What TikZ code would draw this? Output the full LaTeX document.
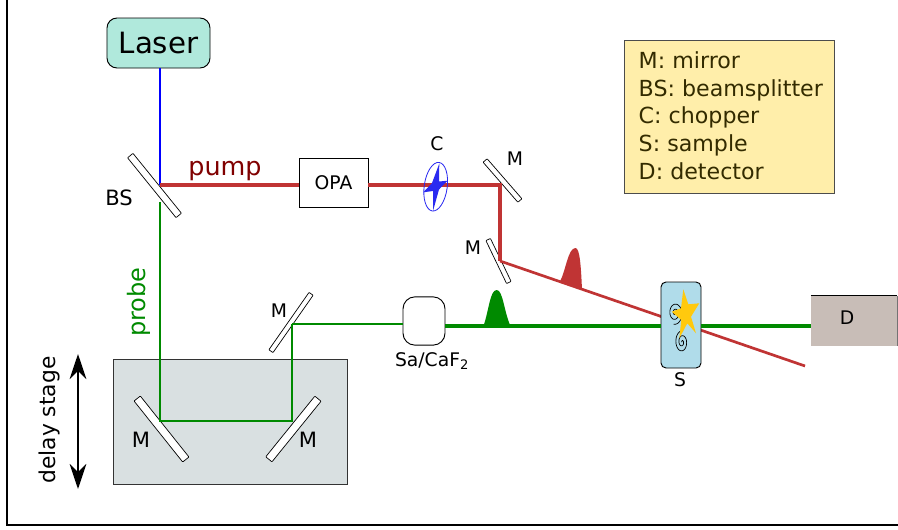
\documentclass[tikz,border=0pt]{standalone}
\usepackage{fontspec}
\setmainfont{DejaVu Sans}
\usetikzlibrary{arrows.meta}
\definecolor{beamred}{HTML}{C03434}
\definecolor{beamgreen}{HTML}{008A00}
\definecolor{pumpred}{HTML}{800000}
\definecolor{lasergreen}{HTML}{B0E9DC}
\definecolor{stagegrey}{HTML}{D9E0E1}
\definecolor{samplecyan}{HTML}{B0DCEA}
\definecolor{staryellow}{HTML}{FFC90E}
\definecolor{legendyellow}{HTML}{FFEEAA}
\definecolor{legendtext}{HTML}{332B00}
\definecolor{detectorgrey}{HTML}{C8BDB7}
\definecolor{chopblue}{HTML}{2A2AF0}
\tikzset{
  mirror/.style={draw, fill=white, line width=0.6pt, inner sep=0pt, rounded corners=0.5pt},
  lab/.style={inner sep=0pt, font=\fontsize{16}{19}\selectfont},
  blue beam/.style={blue, line width=2.45pt},
  red beam/.style={beamred, line width=2.8pt},
  green beam/.style={beamgreen, line width=2.45pt},
  green thin/.style={beamgreen, line width=2pt},
  green thick/.style={beamgreen, line width=3.4pt},
  legend box/.style={draw=black!70, fill=legendyellow, line width=0.6pt, minimum width=6.3cm, minimum height=4.59cm, inner sep=0pt},
  legend text/.style={inner sep=0pt, align=left, text=legendtext, font=\fontsize{18.9}{23.6}\selectfont}
}
\begin{document}
\begin{tikzpicture}[x=0.03cm,y=-0.03cm]
\useasboundingbox (0,0) rectangle (898,529);
\draw [line width=1.1pt] (7,0) -- (7,525) -- (898,525);

\draw (230,421.5) node [draw=black!80, fill=stagegrey, line width=0.7pt, minimum width=7.02cm, minimum height=3.75cm, inner sep=0pt] (stage) {};
\draw (729,116.5) node [legend box] (legend) {};
\draw (638.5,115.5) node [legend text, anchor=west] (legendlines) {M: mirror\\BS: beamsplitter\\C: chopper\\S: sample\\D: detector};

\draw (154.5,185.5) node [mirror, rotate=-51, minimum width=2.31cm, minimum height=0.21cm] (bs) {};
\draw (502.5,180.5) node [mirror, rotate=-49, minimum width=1.59cm, minimum height=0.16cm] (mone) {};
\draw (498.5,261) node [mirror, rotate=-64.3, minimum width=1.43cm, minimum height=0.15cm] (mtwo) {};
\draw (291,322.5) node [mirror, rotate=55, minimum width=2.1cm, minimum height=0.15cm] (mthree) {};
\draw (161.5,429) node [mirror, rotate=-51.4, minimum width=2.34cm, minimum height=0.24cm] (mleft) {};
\draw (293.4,429) node [mirror, rotate=51, minimum width=2.34cm, minimum height=0.24cm] (mright) {};

\coordinate (bshit) at (160,185);
\coordinate (bsout) at (160,202);
\coordinate (monehit) at (500,185);
\coordinate (mtwohit) at (500,261);
\coordinate (redend) at (805,366);
\coordinate (mlefthit) at (160,421);
\coordinate (mrighthit) at (292,421);
\coordinate (mthreehit) at (292,324);
\coordinate (thickline) at (500,326);
\coordinate (arrowtop) at (78,354);
\coordinate (arrowbot) at (78,489);

\draw [beamred, line width=2.3pt] (mtwohit) -- (redend);

\draw (158.5,43) node [draw, fill=lasergreen, rounded corners=0.3cm, line width=0.8pt, minimum width=3.09cm, minimum height=1.5cm, inner sep=0pt, font=\fontsize{25}{30}\selectfont] (laser) {Laser};
\draw (333.5,182.5) node [draw, fill=white, line width=0.7pt, minimum width=2.07cm, minimum height=1.47cm, inner sep=0pt, font=\fontsize{16}{19}\selectfont] (opa) {OPA};
\draw (424,321) node [draw, fill=white, rounded corners=0.36cm, line width=0.8pt, minimum width=1.26cm, minimum height=1.45cm, inner sep=0pt] (window) {};
\draw (681,325) node [draw, fill=samplecyan, rounded corners=0.15cm, line width=0.8pt, minimum width=1.2cm, minimum height=2.58cm, inner sep=0pt] (sample) {};
\draw (854,321) node [fill=detectorgrey, minimum width=2.58cm, minimum height=1.5cm, inner sep=0pt] (det) {};
\draw (847,318) node [lab] (dlabel) {D};
\draw [line width=0.7pt] (det.north west) -- (det.north east);
\draw [black!55, line width=0.7pt] (det.north east) -- (det.south east);

\draw [blue beam] (laser.south -| bshit) -- (bshit);
\draw [red beam] (bshit) -- (opa.west |- bshit);
\draw [red beam] (opa.east |- monehit) -- (monehit) -- (mtwohit);
\draw [green beam] (bsout) -- (mlefthit) -- (mrighthit) -- (mthreehit);
\draw [green thin] (mthreehit) -- (window.west |- mthreehit);
\draw [green thick] (window.east |- thickline) -- (sample.west |- thickline);
\draw [green thick] (sample.east |- thickline) -- (det.west |- thickline);

\fill [beamred] (560,281.5) .. controls (566,270) and (568,248) .. (575.5,248) .. controls (580,248) and (581,268) .. (582,289.5) -- cycle;
\fill [beamgreen] (483.5,326) .. controls (489,310) and (490,290) .. (496.7,290) .. controls (503,290) and (504,312) .. (510.5,326) -- cycle;

\draw [chopblue, line width=0.7pt, rotate around={-8:(435.7,186.7)}] (435.7,186.7) ellipse (11.5 and 24.5);
\fill [chopblue] (423.3,192.3) -- (432,183) -- (439.3,163.5) -- (439,181.5) -- (447.7,180.7) -- (439,189.5) -- (433,211) -- (433,191) -- cycle;

\draw [black, line width=0.6pt] plot [domain=0:820, samples=80, smooth] ({675+0.0095*\x*cos(\x)},{313+0.014*\x*sin(\x)});
\draw [black, line width=0.6pt] plot [domain=0:820, samples=80, smooth] ({682-0.0085*\x*cos(\x)},{342-0.014*\x*sin(\x)});
\fill [staryellow] (683.3,289.3) -- (688.3,304.3) -- (699.3,303.3) -- (691,316.7) -- (696,333.3) -- (687.3,323.3) -- (679.3,338.3) -- (681.3,320) -- (671.7,311.7) -- (681,308.3) -- cycle;

\draw [{Stealth[length=0.75cm,width=0.5cm,inset=0.24cm]}-{Stealth[length=0.75cm,width=0.5cm,inset=0.24cm]}, line width=2.2pt] (arrowtop) -- (arrowbot);

\draw (225,171) node [inner sep=0pt, text=pumpred, font=\fontsize{21.7}{26}\selectfont] (pump) {pump};
\draw (139,302) node [inner sep=0pt, rotate=90, text=beamgreen, font=\fontsize{20.5}{25}\selectfont] (probe) {probe};
\draw (49,420) node [inner sep=0pt, rotate=90, font=\fontsize{18.6}{22}\selectfont] (delay) {delay stage};
\draw (119,198) node [lab, font=\fontsize{18}{21}\selectfont] (bslabel) {BS};
\draw (437,144) node [lab] (clabel) {C};
\draw (515,159) node [lab] (monelabel) {M};
\draw (473,248) node [lab] (mtwolabel) {M};
\draw (279,311) node [lab] (mthreelabel) {M};
\draw (141,440) node [lab, font=\fontsize{18}{21}\selectfont] (mleftlabel) {M};
\draw (308,440) node [lab, font=\fontsize{18}{21}\selectfont] (mrightlabel) {M};
\draw (432,361) node [lab] (windowlabel) {Sa/CaF\textsubscript{2}};
\draw (680,380) node [lab] (slabel) {S};
\end{tikzpicture}
\end{document}
